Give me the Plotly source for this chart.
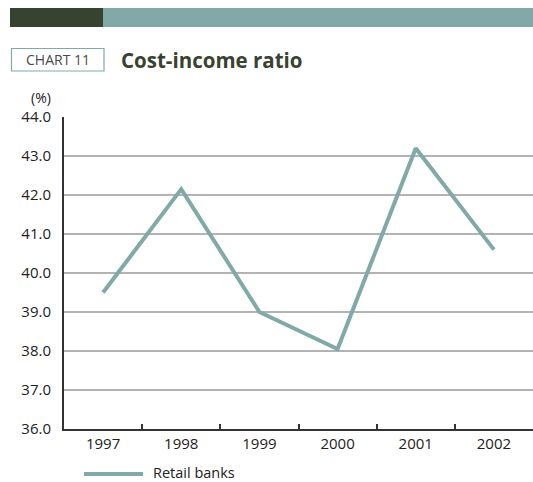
import plotly.graph_objects as go

# Cost-income ratio of retail banks, per year (%)
years = ["1997", "1998", "1999", "2000", "2001", "2002"]
retail_banks = [39.5, 42.15, 39.0, 38.05, 43.2, 40.6]
y_ticks = [36, 37, 38, 39, 40, 41, 42, 43, 44]
y_tick_labels = ["36.0", "37.0", "38.0", "39.0", "40.0", "41.0", "42.0", "43.0", "44.0"]

W, H = 533, 482
ML, MR, MT, MB = 64, 0, 117, 53
PW, PH = W - ML - MR, H - MT - MB

TEAL = "#80a9a8"
DARK = "#38432f"
FONT = "Open Sans"


def px(x):
    return (x - ML) / PW


def py(y):
    return 1 - (y - MT) / PH


fig = go.Figure()
fig.add_trace(go.Scatter(
    x=years, y=retail_banks, mode="lines", name="Retail banks",
    line=dict(color=TEAL, width=4), showlegend=False,
))

shapes = [
    # header band
    dict(type="rect", xref="paper", yref="paper", x0=px(10), x1=px(103), y0=py(27), y1=py(8),
         fillcolor=DARK, line=dict(width=0), layer="above"),
    dict(type="rect", xref="paper", yref="paper", x0=px(103), x1=px(533), y0=py(27), y1=py(8),
         fillcolor=TEAL, line=dict(width=0), layer="above"),
    # chart number box
    dict(type="rect", xref="paper", yref="paper", x0=px(11.5), x1=px(104), y0=py(71), y1=py(48.5),
         fillcolor="white", line=dict(color=TEAL, width=1.2), layer="above"),
    # legend key
    dict(type="line", xref="paper", yref="paper", x0=px(84), x1=px(143), y0=py(474), y1=py(474),
         line=dict(color=TEAL, width=4), layer="above"),
]

annotations = [
    dict(text="CHART 11", xref="paper", yref="paper", x=px(57.5), y=py(60), xanchor="center",
         yanchor="middle", showarrow=False, font=dict(family=FONT, size=14, color="#4a4a4a")),
    dict(text="<b>Cost-income ratio</b>", xref="paper", yref="paper", x=px(119), y=py(60),
         xanchor="left", yanchor="middle", showarrow=False,
         font=dict(family=FONT, size=20.5, color=DARK)),
    dict(text="(%)", xref="paper", yref="paper", x=px(53), y=py(97), xanchor="right",
         yanchor="middle", showarrow=False, font=dict(family=FONT, size=14, color="#222222")),
    dict(text="Retail banks", xref="paper", yref="paper", x=px(151), y=py(472), xanchor="left",
         yanchor="middle", showarrow=False, font=dict(family=FONT, size=14.5, color="#222222")),
]

fig.update_layout(
    width=W, height=H,
    margin=dict(l=ML, r=MR, t=MT, b=MB),
    paper_bgcolor="white", plot_bgcolor="white",
    font=dict(family=FONT, size=14, color="#222222"),
    shapes=shapes, annotations=annotations,
    xaxis=dict(
        type="category", range=[-0.5, 5.5], showgrid=False,
        showline=True, linecolor="#333333", linewidth=2,
        ticks="inside", tickson="boundaries", ticklen=5, tickwidth=1.5, tickcolor="#333333",
        tickfont=dict(family=FONT, size=15, color="#222222"),
    ),
    yaxis=dict(
        range=[36, 44], tickvals=y_ticks, ticktext=y_tick_labels,
        showgrid=True, gridcolor="#b3b3b3", gridwidth=1.5,
        showline=True, linecolor="#333333", linewidth=2,
        ticks="", ticklabelstandoff=8, zeroline=False,
        tickfont=dict(family=FONT, size=15, color="#222222"),
    ),
)

fig.write_html("out.html")
